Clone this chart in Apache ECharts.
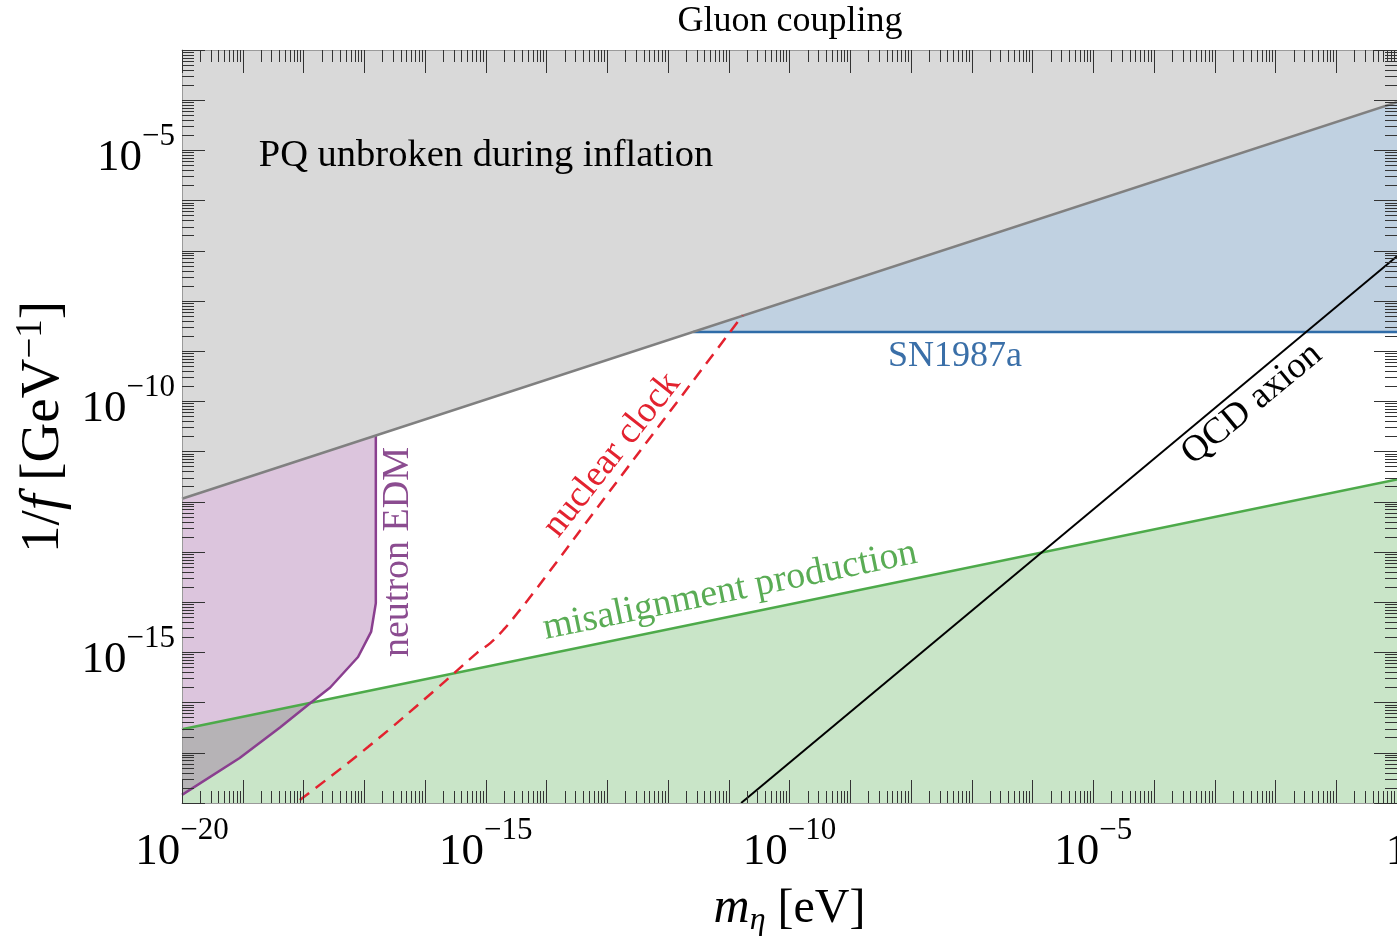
<!DOCTYPE html>
<html>
<head>
<meta charset="utf-8">
<script src="https://cdn.jsdelivr.net/npm/echarts@6/dist/echarts.min.js"></script>
<style>
  html, body { margin: 0; padding: 0; background: #fff; }
  #chart { width: 1397px; height: 937px; }
</style>
</head>
<body>
<div id="chart"></div>
<script>
// Constraint boundaries in the (m_eta [eV], 1/f [GeV^-1]) plane
const pqMass = [1e-20, 1];
const pqCoupling = [1.15e-12, 9.1e-5];

const snMass = [2.6e-12, 1];
const snCoupling = [2.4e-9, 2.4e-9];

const misalignMass = [1e-20, 1];
const misalignCoupling = [2.95e-17, 2.8e-12];

const edmMass = [1e-20, 8.9e-20, 4.1e-19, 1.3e-18, 2.75e-18, 7.9e-18, 1.3e-17, 1.55e-17, 1.55e-17];
const edmCoupling = [1.45e-18, 7.9e-18, 3.2e-17, 9.8e-17, 2.0e-16, 8.1e-16, 2.6e-15, 9.5e-15, 2.1e-11];

const clockMass = [8.7e-19, 1.15e-17, 1.6e-16, 7.2e-16, 1.2e-15, 2.0e-15, 3.3e-15, 6.0e-15, 1.0e-13, 1.7e-11];
const clockCoupling = [1.15e-18, 1.3e-17, 1.95e-16, 9.8e-16, 1.55e-15, 2.9e-15, 6.0e-15, 1.5e-14, 1.4e-12, 5.2e-9];

const qcdMass = [1.6e-11, 1];
const qcdCoupling = [1e-18, 7.8e-8];

// Axis ranges (decades) and labelled decades
const massRange = [-20, 0];
const couplingRange = [-18, -3];
const massLabelExponents = [-20, -15, -10, -5, 0];
const couplingLabelExponents = [-15, -10, -5];

const log10 = Math.log10;
const toPoints = (xs, ys) => xs.map((x, i) => [log10(x), log10(ys[i])]);

const FONT = '"Liberation Serif", "DejaVu Serif", serif';
const TICK_COLOR = '#333';
const FRAME_COLOR = '#9a9a9a';

function majorTicks(range) {
  const out = [];
  for (let n = range[0]; n <= range[1]; n++) out.push(n);
  return out;
}
function minorTicks(range) {
  const out = [];
  for (let n = range[0]; n < range[1]; n++) {
    for (let k = 2; k <= 9; k++) out.push(n + log10(k));
  }
  return out;
}

function powerLabel(v) {
  if (v === 0) return '{b|1}';
  return '{b|10}{s|' + (v < 0 ? '\u2212' : '') + Math.abs(v) + '}';
}

const labelRich = {
  b: { fontFamily: FONT, fontSize: 45, lineHeight: 60, verticalAlign: 'bottom', color: '#000' },
  s: { fontFamily: FONT, fontSize: 31, lineHeight: 37, verticalAlign: 'top', color: '#000' }
};

// Tick-only axis; several of these are stacked per side to get decade and sub-decade ticks
function tickAxis(kind, position, len, values, extra) {
  const range = kind === 'x' ? massRange : couplingRange;
  return Object.assign({
    type: 'value',
    position: position,
    min: range[0],
    max: range[1],
    z: 10,
    axisLine: { show: false, onZero: false },
    splitLine: { show: false },
    axisLabel: { show: false },
    axisTick: {
      show: true, inside: true, length: len, customValues: values,
      lineStyle: { color: TICK_COLOR, width: 1 }
    }
  }, extra || {});
}

const chart = echarts.init(document.getElementById('chart'), null, { renderer: 'canvas' });

const option = {
  animation: false,
  backgroundColor: '#fff',
  grid: { left: 182, right: 0, top: 50, bottom: 134, containLabel: false, outerBoundsMode: 'none' },
  xAxis: [
    tickAxis('x', 'bottom', 23, majorTicks(massRange), {
      axisLine: { show: true, onZero: false, lineStyle: { color: FRAME_COLOR, width: 1 } },
      axisLabel: {
        show: true, customValues: massLabelExponents, margin: 12,
        formatter: powerLabel, rich: labelRich
      },
      name: '{i|m}{u|\u03B7} [eV]',
      nameLocation: 'middle',
      nameGap: 78,
      nameTextStyle: {
        fontFamily: FONT, fontSize: 48, lineHeight: 56, color: '#000', verticalAlign: 'top',
        rich: {
          i: { fontFamily: FONT, fontStyle: 'italic', fontSize: 50, lineHeight: 56, color: '#000' },
          u: { fontFamily: FONT, fontStyle: 'italic', fontSize: 32, lineHeight: 32, verticalAlign: 'bottom', color: '#000' }
        }
      }
    }),
    tickAxis('x', 'bottom', 12, minorTicks(massRange)),
    tickAxis('x', 'top', 23, majorTicks(massRange), {
      axisLine: { show: true, onZero: false, lineStyle: { color: FRAME_COLOR, width: 1 } }
    }),
    tickAxis('x', 'top', 12, minorTicks(massRange))
  ],
  yAxis: [
    tickAxis('y', 'left', 23, majorTicks(couplingRange), {
      axisLine: { show: true, onZero: false, lineStyle: { color: FRAME_COLOR, width: 1 } },
      axisLabel: {
        show: true, customValues: couplingLabelExponents, margin: 7,
        formatter: powerLabel, rich: labelRich, padding: [1, 0, 0, 0]
      }
    }),
    tickAxis('y', 'left', 12, minorTicks(couplingRange)),
    tickAxis('y', 'right', 23, majorTicks(couplingRange), {
      axisLine: { show: true, onZero: false, lineStyle: { color: FRAME_COLOR, width: 1 } }
    }),
    tickAxis('y', 'right', 12, minorTicks(couplingRange))
  ],
  series: [
    {
      name: 'SN1987a', type: 'line', data: toPoints(snMass, snCoupling),
      symbol: 'none', silent: true,
      lineStyle: { color: '#2f6ca8', width: 2.5 },
      areaStyle: { color: '#c0d1e1', opacity: 1, origin: 'end' }
    },
    {
      name: 'misalignment production', type: 'line', data: toPoints(misalignMass, misalignCoupling),
      symbol: 'none', silent: true,
      lineStyle: { color: '#4daa4a', width: 2.5 },
      areaStyle: { color: 'rgba(77,170,74,0.3)', opacity: 1, origin: 'start' }
    },
    {
      name: 'neutron EDM', type: 'line', data: toPoints(edmMass, edmCoupling),
      symbol: 'none', silent: true,
      lineStyle: { color: '#8a3f8f', width: 2.5 },
      areaStyle: { color: 'rgba(138,63,143,0.3)', opacity: 1, origin: 'end' }
    },
    {
      name: 'PQ unbroken during inflation', type: 'line', data: toPoints(pqMass, pqCoupling),
      symbol: 'none', silent: true,
      lineStyle: { color: '#808080', width: 2.5 },
      areaStyle: { color: '#d9d9d9', opacity: 1, origin: 'end' }
    },
    {
      name: 'nuclear clock', type: 'line', data: toPoints(clockMass, clockCoupling),
      symbol: 'none', silent: true, smooth: 0.4,
      lineStyle: { color: '#e3222f', width: 2.5, type: [12, 8] }
    },
    {
      name: 'QCD axion', type: 'line', data: toPoints(qcdMass, qcdCoupling),
      symbol: 'none', silent: true,
      lineStyle: { color: '#000', width: 2 }
    }
  ],
  graphic: [
    { type: 'text', x: 790, y: 22, z: 100,
      style: { text: 'Gluon coupling', fontFamily: FONT, fontSize: 36, fill: '#000', align: 'center', verticalAlign: 'middle' } },
    // vertical axis title
    { type: 'text', x: 44, y: 427, z: 100, rotation: Math.PI / 2,
      style: {
        text: '1/{i|f} [GeV{s|\u22121}]', fontFamily: FONT, fontSize: 55, lineHeight: 62, fill: '#000',
        align: 'center', verticalAlign: 'middle',
        rich: {
          i: { fontFamily: FONT, fontStyle: 'italic', fontSize: 57, lineHeight: 62, fill: '#000' },
          s: { fontFamily: FONT, fontSize: 37, lineHeight: 36, verticalAlign: 'top', fill: '#000' }
        }
      } },
    { type: 'text', x: 486, y: 156, z: 100,
      style: { text: 'PQ unbroken during inflation', fontFamily: FONT, fontSize: 38.5, fill: '#000', align: 'center', verticalAlign: 'middle' } },
    { type: 'text', x: 955, y: 357, z: 100,
      style: { text: 'SN1987a', fontFamily: FONT, fontSize: 36, fill: '#3a6fa8', align: 'center', verticalAlign: 'middle' } },
    { type: 'text', x: 398, y: 552, z: 100, rotation: Math.PI / 2,
      style: { text: 'neutron EDM', fontFamily: FONT, fontSize: 38, fill: '#8b4c90', align: 'center', verticalAlign: 'middle' } },
    { type: 'text', x: 730, y: 591, z: 100, rotation: 11.6 * Math.PI / 180,
      style: { text: 'misalignment production', fontFamily: FONT, fontSize: 38, fill: '#5aac55', align: 'center', verticalAlign: 'middle' } },
    { type: 'text', x: 612, y: 455, z: 100, rotation: 51.7 * Math.PI / 180,
      style: { text: 'nuclear clock', fontFamily: FONT, fontSize: 37, fill: '#e3222f', align: 'center', verticalAlign: 'middle' } },
    { type: 'text', x: 1252, y: 404, z: 100, rotation: 39.6 * Math.PI / 180,
      style: { text: 'QCD axion', fontFamily: FONT, fontSize: 37, fill: '#000', align: 'center', verticalAlign: 'middle' } }
  ]
};

chart.setOption(option);
</script>
</body>
</html>
